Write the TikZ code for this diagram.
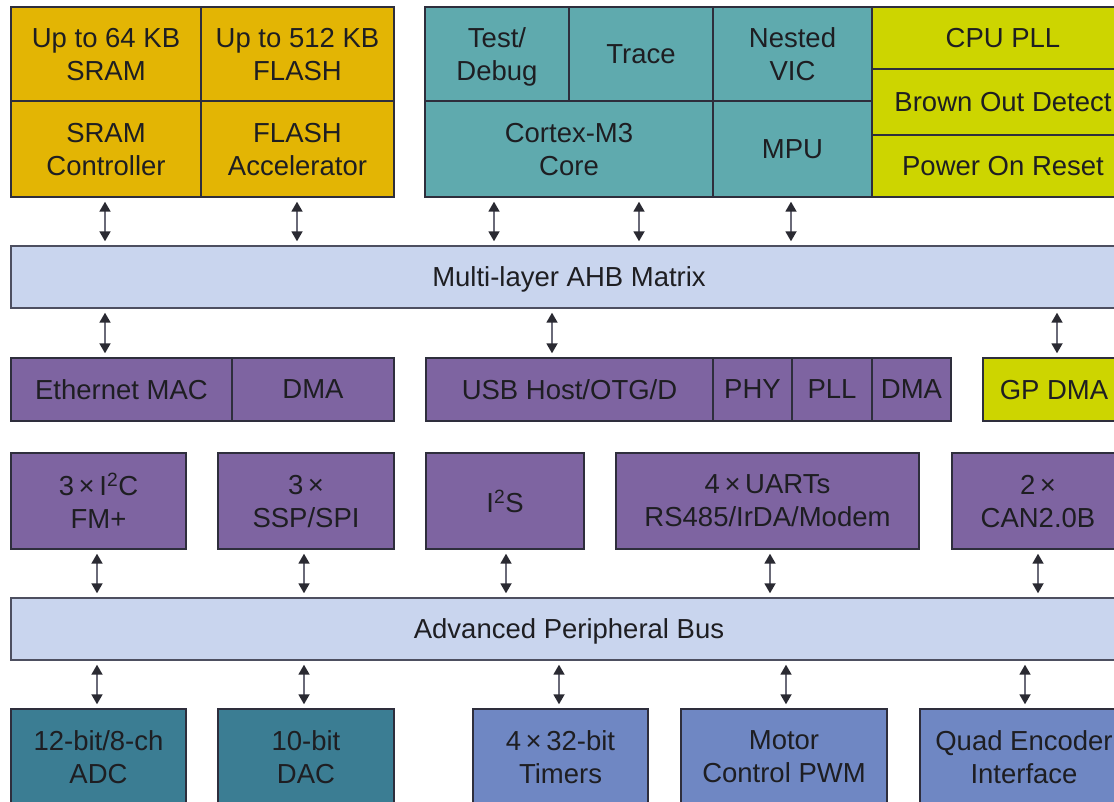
\documentclass[tikz,border=0pt]{standalone}
\usepackage{fontspec}
\setmainfont{Liberation Sans}
\usetikzlibrary{arrows.meta}
\definecolor{cyel}{HTML}{E3B504}
\definecolor{cteal}{HTML}{5FAAAE}
\definecolor{clime}{HTML}{CDD500}
\definecolor{cbus}{HTML}{C9D5EE}
\definecolor{cpurp}{HTML}{7E64A1}
\definecolor{cdteal}{HTML}{3B7D93}
\definecolor{cblue}{HTML}{6F87C3}
\definecolor{cline}{HTML}{2E2E3C}
\definecolor{ctext}{HTML}{1E1E22}
\definecolor{carrow}{HTML}{2A2A32}
\definecolor{cshaft}{HTML}{6A6A78}
\tikzset{
  blk/.style={draw=cline, line width=1.4pt, inner sep=0pt, align=center,
    font=\fontsize{27.5}{33}\selectfont, text=ctext, text depth=0pt},
  two/.style={text depth=-8pt},
  yel/.style={fill=cyel},
  tealc/.style={fill=cteal},
  lime/.style={fill=clime},
  bus/.style={fill=cbus, draw=cline!80!cbus},
  purp/.style={fill=cpurp},
  dteal/.style={fill=cdteal},
  bluec/.style={fill=cblue},
  bi/.style={draw=cshaft, line width=1.8pt, shorten <=4pt, shorten >=4pt,
    {Triangle[width=11pt,length=10pt,color=carrow]}-{Triangle[width=11pt,length=10pt,color=carrow]}}
}
\newcommand\cell[7]{\node[blk,#6,minimum width={(#4-#2)*1pt},minimum height={(#5-#3)*1pt}] (#1) at ({(#2+#4)/2},{(#3+#5)/2}) {#7};}
\begin{document}
\begin{tikzpicture}[x=1pt,y=-1pt]
\useasboundingbox (0,0) rectangle (1114,801);
\clip (0,0) rectangle (1114,801);
% top row
\cell{sram}{11}{7}{201}{101}{yel,two}{Up to 64 KB\\SRAM}
\cell{flash}{201}{7}{394}{101}{yel,two}{Up to 512 KB\\FLASH}
\cell{sramc}{11}{101}{201}{197}{yel,two}{SRAM\\Controller}
\cell{flashacc}{201}{101}{394}{197}{yel,two}{FLASH\\Accelerator}
\cell{test}{425}{7}{569}{101}{tealc,two}{Test/\\Debug}
\cell{trace}{569}{7}{713}{101}{tealc}{Trace}
\cell{nvic}{713}{7}{872}{101}{tealc,two}{Nested\\VIC}
\cell{core}{425}{101}{713}{197}{tealc,two}{Cortex-M3\\Core}
\cell{mpu}{713}{101}{872}{197}{tealc}{MPU}
\cell{pll}{872}{7}{1134}{69}{lime}{CPU PLL}
\cell{bod}{872}{69}{1134}{135}{lime}{Brown Out Detect}
\cell{por}{872}{135}{1134}{197}{lime}{Power On Reset}
% AHB
\cell{ahb}{11}{246}{1127}{308}{bus}{Multi-layer AHB Matrix}
% row 3
\cell{eth}{11}{358}{232}{421}{purp}{Ethernet MAC}
\cell{edma}{232}{358}{394}{421}{purp}{DMA}
\cell{usb}{426}{358}{713}{421}{purp}{USB Host/OTG/D}
\cell{phy}{713}{358}{792}{421}{purp}{PHY}
\cell{upll}{792}{358}{872}{421}{purp}{PLL}
\cell{udma}{872}{358}{951}{421}{purp}{DMA}
\cell{gpdma}{983}{358}{1125}{421}{lime}{GP DMA}
% row 4
\cell{i2c}{11}{453}{186}{549}{purp,two}{3\,×\,I\textsuperscript{2}C\\FM+}
\cell{ssp}{218}{453}{394}{549}{purp,two}{3\,×\\SSP/SPI}
\cell{i2s}{426}{453}{584}{549}{purp}{I\textsuperscript{2}S}
\cell{uart}{616}{453}{919}{549}{purp,two}{4\,×\,UARTs\\RS485/IrDA/Modem}
\cell{can}{952}{453}{1124}{549}{purp,two}{2\,×\\CAN2.0B}
% APB
\cell{apb}{11}{598}{1127}{660}{bus}{Advanced Peripheral Bus}
% bottom row
\cell{adc}{11}{709}{186}{805}{dteal,two}{12-bit/8-ch\\ADC}
\cell{dac}{218}{709}{394}{805}{dteal,two}{10-bit\\DAC}
\cell{tim}{473}{709}{648}{805}{bluec,two}{4\,×\,32-bit\\Timers}
\cell{pwm}{681}{709}{887}{805}{bluec,two}{Motor\\Control PWM}
\cell{qei}{920}{709}{1128}{805}{bluec,two}{Quad Encoder\\Interface}
% arrow columns
\coordinate (c105) at (105,0);
\coordinate (c297) at (297,0);
\coordinate (c494) at (494,0);
\coordinate (c639) at (639,0);
\coordinate (c791) at (791,0);
\coordinate (c552) at (552,0);
\coordinate (c1057) at (1057,0);
\coordinate (c97) at (97,0);
\coordinate (c304) at (304,0);
\coordinate (c506) at (506,0);
\coordinate (c770) at (770,0);
\coordinate (c1038) at (1038,0);
\coordinate (c559) at (559,0);
\coordinate (c786) at (786,0);
\coordinate (c1025) at (1025,0);
% top -> AHB
\draw[bi] (sramc.south -| c105) -- (ahb.north -| c105);
\draw[bi] (flashacc.south -| c297) -- (ahb.north -| c297);
\draw[bi] (core.south -| c494) -- (ahb.north -| c494);
\draw[bi] (core.south -| c639) -- (ahb.north -| c639);
\draw[bi] (mpu.south -| c791) -- (ahb.north -| c791);
% AHB -> row 3
\draw[bi] (ahb.south -| c105) -- (eth.north -| c105);
\draw[bi] (ahb.south -| c552) -- (usb.north -| c552);
\draw[bi] (ahb.south -| c1057) -- (gpdma.north -| c1057);
% row 4 -> APB
\draw[bi] (i2c.south -| c97) -- (apb.north -| c97);
\draw[bi] (ssp.south -| c304) -- (apb.north -| c304);
\draw[bi] (i2s.south -| c506) -- (apb.north -| c506);
\draw[bi] (uart.south -| c770) -- (apb.north -| c770);
\draw[bi] (can.south -| c1038) -- (apb.north -| c1038);
% APB -> bottom
\draw[bi] (apb.south -| c97) -- (adc.north -| c97);
\draw[bi] (apb.south -| c304) -- (dac.north -| c304);
\draw[bi] (apb.south -| c559) -- (tim.north -| c559);
\draw[bi] (apb.south -| c786) -- (pwm.north -| c786);
\draw[bi] (apb.south -| c1025) -- (qei.north -| c1025);
\end{tikzpicture}
\end{document}
